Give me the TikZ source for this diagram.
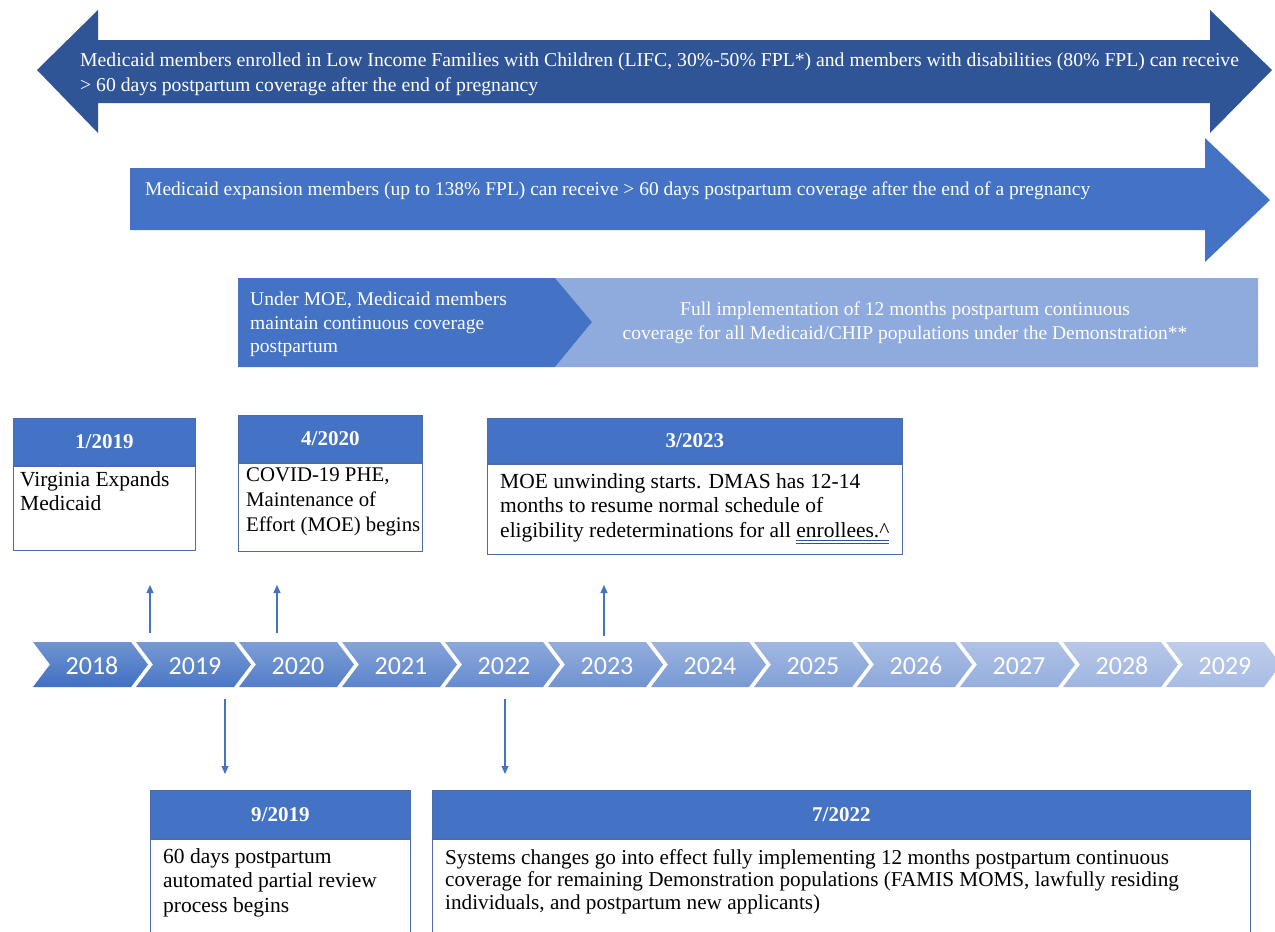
\documentclass[tikz,border=0pt]{standalone}
\usepackage{fontspec}
\setmainfont{Liberation Serif}
\newfontfamily\yearfont{Carlito}
\usetikzlibrary{arrows.meta}
\definecolor{darkarrow}{HTML}{2F5597}
\definecolor{midblue}{HTML}{4472C4}
\definecolor{lightblue}{HTML}{8FAADC}
\definecolor{chevL}{HTML}{4070C2}
\definecolor{chevR}{HTML}{A8BCE4}
\definecolor{boxline}{HTML}{4A6DA8}
\definecolor{ulblue}{HTML}{2F5597}
\newcommand\dblul[1]{\setbox0=\hbox{#1}\rlap{\color{ulblue}\rule[-3pt]{\wd0}{0.7pt}}\rlap{\color{ulblue}\rule[-5.5pt]{\wd0}{0.7pt}}\box0}
\begin{document}
\begin{tikzpicture}[x=1pt,y=-1pt,
  toptext/.style={anchor=north west, inner sep=0, text=white, font=\fontsize{19.7}{24.5}\selectfont, align=left},
  hdr/.style={anchor=north west, fill=midblue, draw=boxline, line width=0.8, inner sep=0, text=white, font=\fontsize{21}{24}\selectfont\bfseries},
  body/.style={anchor=north west, draw=boxline, line width=0.8, fill=white, inner sep=0},
  btext/.style={anchor=north west, inner sep=0, font=\fontsize{21.5}{24.8}\selectfont, align=left},
  conn/.style={draw=midblue, line width=1.2, -{Triangle[width=7,length=8]}},
  year/.style={text=white, inner sep=0, anchor=base, font=\yearfont\fontsize{26}{26}\selectfont}
]
\useasboundingbox[fill=white] (0,0) rectangle (1275,932);

% top double arrow
\fill[darkarrow] (37,70) -- (98,10) -- (98,40) -- (1210,40) -- (1210,10) -- (1272,70)
  -- (1210,133) -- (1210,103) -- (98,103) -- (98,133) -- cycle;
\node[toptext] (t1) at (80,53) {Medicaid members enrolled in Low Income Families with Children (LIFC, 30\%-50\% FPL*) and members with disabilities (80\% FPL) can receive\\> 60 days postpartum coverage after the end of pregnancy};

% second arrow
\fill[midblue] (130,168) -- (1205,168) -- (1205,138) -- (1270,200) -- (1205,262)
  -- (1205,230) -- (130,230) -- cycle;
\node[toptext, font=\fontsize{19.5}{24}\selectfont] (t2) at (145,182) {Medicaid expansion members (up to 138\% FPL) can receive > 60 days postpartum coverage after the end of a pregnancy};

% MOE bar
\fill[lightblue] (555,278) -- (1258,278) -- (1258,367) -- (555,367) -- (592,322) -- cycle;
\fill[midblue] (238,278) -- (555,278) -- (592,322) -- (555,367) -- (238,367) -- cycle;
\node[toptext, font=\fontsize{19.5}{23.5}\selectfont] (t3) at (250,292) {Under MOE, Medicaid members\\maintain continuous coverage\\postpartum};
\node[toptext, anchor=north, align=center, font=\fontsize{19.5}{23.5}\selectfont] (t4) at (905,302) {Full implementation of 12 months postpartum continuous\\coverage for all Medicaid/CHIP populations under the Demonstration**};

% event boxes (top)
\node[hdr, minimum width=182, minimum height=47] (h1) at (13,418) {1/2019};
\node[body, minimum width=182, minimum height=84] (b1) at (h1.south west) {};
\node[btext] (x1) at (20,471) {Virginia Expands\\Medicaid};

\node[hdr, minimum width=184, minimum height=47] (h2) at (238,415) {4/2020};
\node[body, minimum width=184, minimum height=88] (b2) at (h2.south west) {};
\node[btext, font=\fontsize{20.8}{24.8}\selectfont] (x2) at (246,468) {COVID-19 PHE,\\Maintenance of\\Effort (MOE) begins};

\node[hdr, minimum width=415, minimum height=45] (h3) at (487,418) {3/2023};
\node[body, minimum width=415, minimum height=90] (b3) at (h3.south west) {};
\node[btext] (x3) at (500,473) {MOE unwinding starts. DMAS has 12-14\\months to resume normal schedule of\\eligibility redeterminations for all \dblul{enrollees.\textasciicircum}};

% event boxes (bottom)
\node[hdr, minimum width=260, minimum height=48] (h4) at (150,790) {9/2019};
\node[body, minimum width=260, minimum height=100] (b4) at (h4.south west) {};
\node[btext] (x4) at (163,848) {60 days postpartum\\automated partial review\\process begins};

\node[hdr, minimum width=818, minimum height=48] (h5) at (432,790) {7/2022};
\node[body, minimum width=818, minimum height=100] (b5) at (h5.south west) {};
\node[btext, font=\fontsize{21.2}{22.5}\selectfont] (x5) at (445,849) {Systems changes go into effect fully implementing 12 months postpartum continuous\\coverage for remaining Demonstration populations (FAMIS MOMS, lawfully residing\\individuals, and postpartum new applicants)};

% timeline chevrons
\foreach \i [evaluate=\i as \x using 33+103*\i, evaluate=\i as \p using 100-100*\i/11, evaluate=\i as \yr using int(2018+\i)] in {0,...,11} {
  \colorlet{cc}{chevL!\p!chevR}
  \shade[top color=cc!75!white, bottom color=cc] (\x,642) -- ++(98,0) -- ++(17,22.5) -- ++(-17,22.5) -- ++(-98,0) -- ++(17,-22.5) -- cycle;
  \node[year] (y\yr) at (\x+59,674) {\yr};
}

% connectors
\coordinate (u1s) at (150,633); \coordinate (u1e) at (150,585);
\coordinate (u2s) at (277,633); \coordinate (u2e) at (277,585);
\coordinate (u3s) at (604,636); \coordinate (u3e) at (604,585);
\coordinate (d1s) at (225,699); \coordinate (d1e) at (225,774);
\coordinate (d2s) at (505,699); \coordinate (d2e) at (505,774);
\draw[conn] (u1s) -- (u1e);
\draw[conn] (u2s) -- (u2e);
\draw[conn] (u3s) -- (u3e);
\draw[conn] (d1s) -- (d1e);
\draw[conn] (d2s) -- (d2e);
\end{tikzpicture}
\end{document}
